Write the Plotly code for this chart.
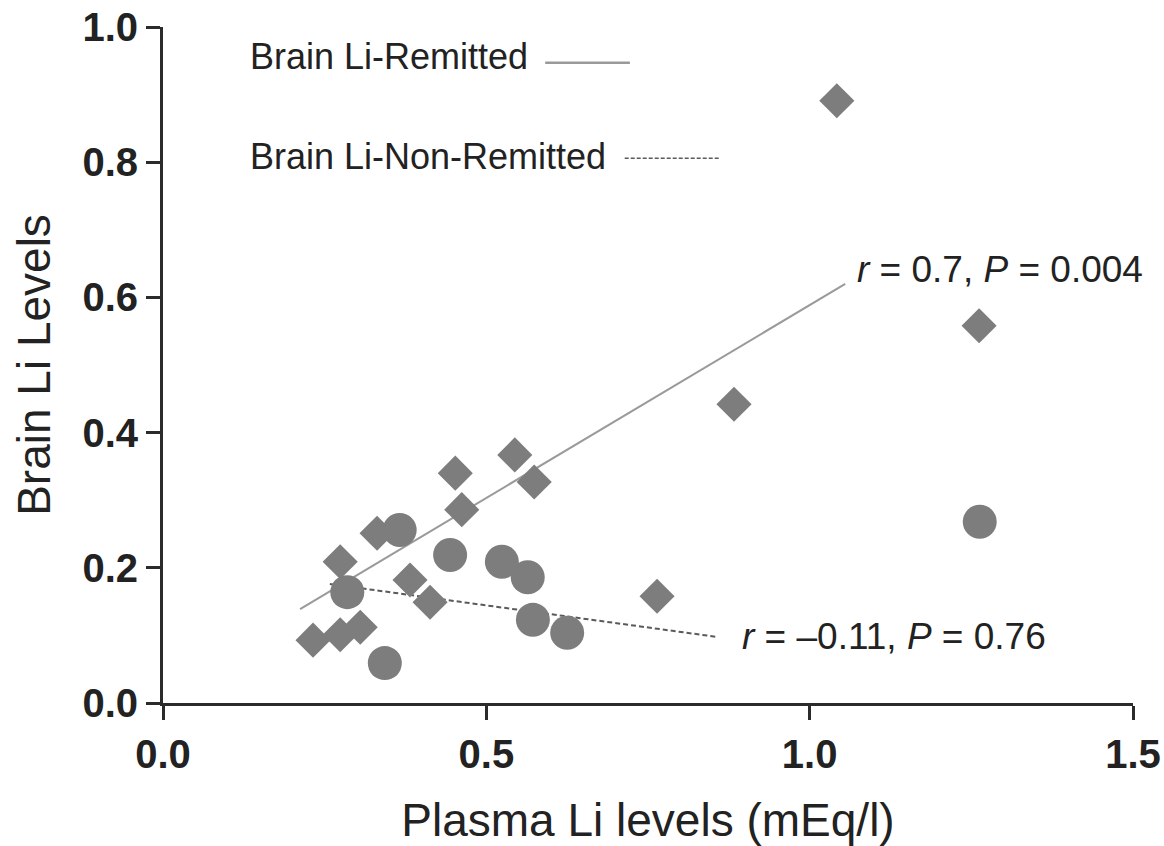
import plotly.graph_objects as go

# Remitted (diamonds)
rem_x = [0.232, 0.274, 0.305, 0.274, 0.331, 0.382, 0.413, 0.452, 0.462, 0.544, 0.574, 0.764, 0.883, 1.042, 1.262]
rem_y = [0.093, 0.101, 0.112, 0.209, 0.251, 0.182, 0.149, 0.340, 0.286, 0.367, 0.327, 0.158, 0.442, 0.891, 0.558]

# Non-remitted (circles)
non_x = [0.285, 0.366, 0.343, 0.444, 0.524, 0.564, 0.572, 0.625, 1.263]
non_y = [0.164, 0.256, 0.059, 0.219, 0.209, 0.186, 0.123, 0.104, 0.268]

# Regression line endpoints
fit_rem_x = [0.212, 1.055]
fit_rem_y = [0.139, 0.620]
fit_non_x = [0.258, 0.855]
fit_non_y = [0.176, 0.098]

# Legend samples
leg_rem_x = [0.591, 0.722]
leg_rem_y = [0.947, 0.947]
leg_non_x = [0.714, 0.861]
leg_non_y = [0.806, 0.806]

x_ticks = [0.0, 0.5, 1.0, 1.5]
y_ticks = [0.0, 0.2, 0.4, 0.6, 0.8, 1.0]

FONT = "Liberation Sans, Arial, Helvetica, sans-serif"
MARK = "#7d7d7d"
AX = "#2b2b2b"

fig = go.Figure()

fig.add_trace(go.Scatter(x=fit_rem_x, y=fit_rem_y, mode="lines",
                         line=dict(color="#9a9a9a", width=2), showlegend=False))
fig.add_trace(go.Scatter(x=fit_non_x, y=fit_non_y, mode="lines",
                         line=dict(color="#5a5a5a", width=2, dash="5px,3px"), showlegend=False))
fig.add_trace(go.Scatter(x=leg_rem_x, y=leg_rem_y, mode="lines",
                         line=dict(color="#9a9a9a", width=2.5), showlegend=False))
fig.add_trace(go.Scatter(x=leg_non_x, y=leg_non_y, mode="lines",
                         line=dict(color="#5a5a5a", width=1.5, dash="4px,2px"), showlegend=False))

fig.add_trace(go.Scatter(x=rem_x, y=rem_y, mode="markers",
                         marker=dict(symbol="diamond", size=27, color=MARK, line=dict(width=0)),
                         showlegend=False, cliponaxis=False))
fig.add_trace(go.Scatter(x=non_x, y=non_y, mode="markers",
                         marker=dict(symbol="circle", size=34, color=MARK, line=dict(width=0)),
                         showlegend=False, cliponaxis=False))

annots = [
    dict(x=0.131, y=0.956, text="Brain Li-Remitted", size=36),
    dict(x=0.131, y=0.808, text="Brain Li-Non-Remitted", size=36),
    dict(x=1.070, y=0.641, text="<i>r</i> = 0.7, <i>P</i> = 0.004", size=37),
    dict(x=0.892, y=0.099, text="<i>r</i> = \u20130.11, <i>P</i> = 0.76", size=37),
]
for a in annots:
    fig.add_annotation(x=a["x"], y=a["y"], text=a["text"], showarrow=False,
                       xanchor="left", yanchor="middle", xref="x", yref="y",
                       font=dict(family=FONT, size=a["size"], color="#222222"))

fig.update_xaxes(range=[0, 1.5], tickvals=x_ticks, tickformat=".1f", automargin=False,
                 showline=True, linewidth=3, linecolor=AX, ticks="outside",
                 ticklen=14, tickwidth=3, tickcolor=AX, showgrid=False, zeroline=False,
                 tickfont=dict(family=FONT, size=40, color="#222222", weight="bold"),
                 title=dict(text="Plasma Li levels (mEq/l)", standoff=30,
                            font=dict(family=FONT, size=46, color="#222222")))
fig.update_yaxes(range=[0, 1.0], tickvals=y_ticks, tickformat=".1f", automargin=False,
                 showline=True, linewidth=3, linecolor=AX, ticks="outside",
                 ticklen=14, tickwidth=3, tickcolor=AX, showgrid=False, zeroline=False,
                 tickfont=dict(family=FONT, size=40, color="#222222", weight="bold"),
                 title=dict(text="Brain Li Levels", standoff=18,
                            font=dict(family=FONT, size=46, color="#222222")))

fig.update_layout(width=1164, height=846, margin=dict(l=163, r=31, t=27, b=143),
                  plot_bgcolor="white", paper_bgcolor="white")

fig.write_html("out.html")
